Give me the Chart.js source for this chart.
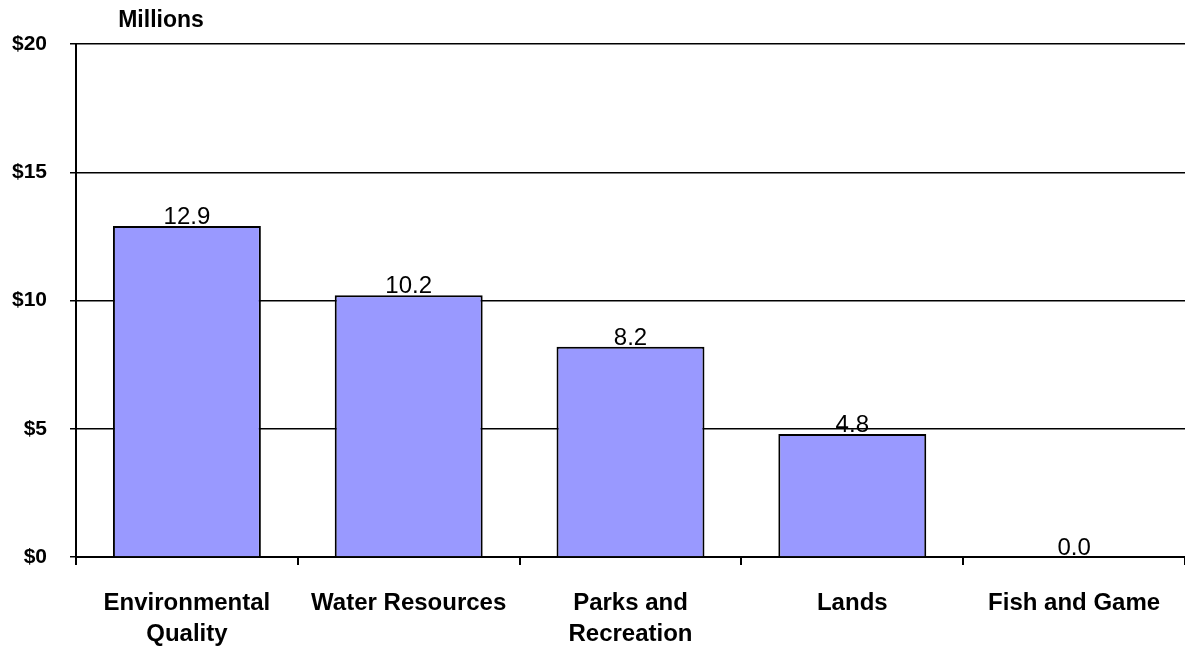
<!DOCTYPE html>
<html>
<head>
<meta charset="utf-8">
<script src="https://cdn.jsdelivr.net/npm/chart.js@4"></script>
<style>
html,body{margin:0;padding:0;background:#fff;}
#wrap{width:1185px;height:648px;position:relative;}
</style>
</head>
<body>
<div id="wrap"><canvas id="c" width="1185" height="648"></canvas></div>
<script>
const categories = [["Environmental","Quality"],["Water Resources"],["Parks and","Recreation"],["Lands"],["Fish and Game"]];
const values = [12.9, 10.2, 8.2, 4.8, 0.0];
const yTicks = [0, 5, 10, 15, 20];
const unitLabel = "Millions";

const FONT = "Arial, 'Liberation Sans', sans-serif";

const labelsPlugin = {
  id: 'labelsPlugin',
  afterDatasetsDraw(chart) {
    const ctx = chart.ctx;
    const meta = chart.getDatasetMeta(0);
    ctx.save();
    ctx.font = "24px " + FONT;
    ctx.fillStyle = "#000";
    ctx.textAlign = "center";
    ctx.textBaseline = "alphabetic";
    meta.data.forEach((bar, i) => {
      ctx.fillText(values[i].toFixed(1), bar.x, bar.y - 2);
    });
    ctx.font = "bold 23px " + FONT;
    ctx.fillText(unitLabel, 161, 27);
    ctx.restore();
  }
};

new Chart(document.getElementById('c'), {
  type: 'bar',
  data: {
    labels: categories,
    datasets: [{
      data: values,
      backgroundColor: '#9999FF',
      borderColor: '#000',
      borderWidth: 2,
      borderSkipped: 'bottom',
      categoryPercentage: 1,
      barPercentage: 0.667
    }]
  },
  options: {
    responsive: false,
    animation: false,
    layout: { padding: { top: 44, right: 0, left: 0, bottom: 0 } },
    plugins: { legend: { display: false }, tooltip: { enabled: false } },
    scales: {
      x: {
        grid: { display: true, offset: true, drawOnChartArea: false, drawTicks: true, tickLength: 8, color: '#000', lineWidth: 2 },
        border: { display: true, color: '#000', width: 2 },
        ticks: { color: '#000', font: { family: FONT, size: 24, weight: 'bold', lineHeight: 1.3 }, padding: 23, maxRotation: 0, autoSkip: false },
        afterFit(s) { s.height = 91; }
      },
      y: {
        min: 0, max: 20,
        afterBuildTicks(s) { s.ticks = yTicks.map(v => ({ value: v })); },
        grid: { color: '#000', lineWidth: 1.5, drawTicks: true, tickLength: 6 },
        border: { display: true, color: '#000', width: 2 },
        ticks: { color: '#000', font: { family: FONT, size: 21, weight: 'bold' }, padding: 23, callback: v => '$' + v },
        afterFit(s) { s.width = 76; }
      }
    }
  },
  plugins: [labelsPlugin]
});
</script>
</body>
</html>
